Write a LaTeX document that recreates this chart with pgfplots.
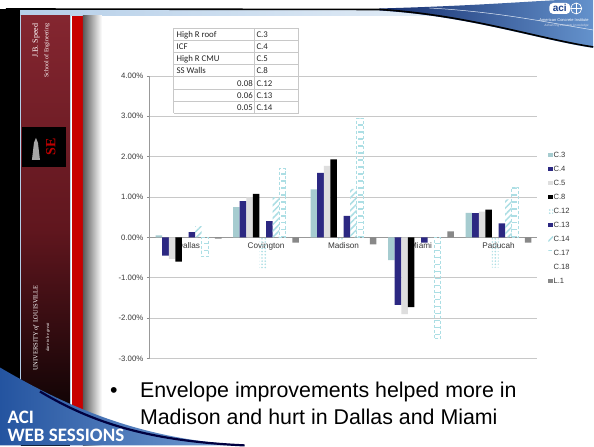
\documentclass[border=0pt]{standalone}
\usepackage{pgfplots}
\pgfplotsset{compat=1.18}
\usepackage{pgfplotstable}
\usepackage{fontspec}
\setmainfont{Liberation Sans}
\newfontfamily\calibri{Carlito}
\newfontfamily\serifface{Liberation Serif}
\usetikzlibrary{patterns,patterns.meta}

\definecolor{barteal}{RGB}{166,204,208}
\definecolor{barnavy}{RGB}{44,40,130}
\definecolor{barsilver}{RGB}{222,222,222}
\definecolor{barcyan}{RGB}{172,222,228}
\definecolor{bargray}{RGB}{136,136,136}
\definecolor{gridgray}{RGB}{200,200,200}
\definecolor{labelgray}{RGB}{55,55,55}
\definecolor{maroontop}{RGB}{132,38,48}
\definecolor{maroonmid}{RGB}{96,22,30}
\definecolor{stripe}{RGB}{200,0,0}
\definecolor{paleblue}{RGB}{180,206,232}
\definecolor{acidark}{RGB}{22,46,110}
\definecolor{acilight}{RGB}{100,146,204}
\definecolor{aciblue}{RGB}{28,66,140}
\definecolor{swooshdark}{RGB}{36,84,160}
\definecolor{swooshlight}{RGB}{120,160,212}

% Relative change per city and envelope measure (percent)
\pgfplotstableread{
x    C3     C4     C5     C8     C12    C13    C14    C17    C18   L1
0    0.05  -0.45  -0.53  -0.60   0.00   0.13   0.28  -0.48   0    -0.03
1    0.75   0.90   0.99   1.08  -0.78   0.40   1.00   1.70   0    -0.13
2    1.19   1.60   1.77   1.93  -0.10   0.53   1.20   2.95   0    -0.17
3   -0.56  -1.67  -1.90  -1.73   0.00  -0.13   0.00  -2.50   0     0.15
4    0.61   0.60   0.64   0.69  -0.75   0.35   0.94   1.24   0    -0.13
}\savings

\pgfplotsset{
  sq/.style={legend image code/.code={\draw[##1,draw=none] (0pt,-2.4pt) rectangle (4.8pt,2.4pt);}},
}
\tikzset{
  citylabel/.style={anchor=north, inner sep=0pt, yshift=-4.5pt, font=\fontsize{8.2}{9}\selectfont, text=labelgray},
}

\begin{document}
\begin{tikzpicture}

% ---------- slide background ----------
\begin{scope}[x=1pt,y=-1pt,shift={(0pt,446pt)}]
  \fill[white] (0,0) rectangle (594,446);
  % top rule and pale bar
  \shade[left color=paleblue, right color=paleblue!40] (8,10) rectangle (430,16);
  \shade[left color=acidark, right color=acilight] (380,8.5) .. controls (470,6) and (520,2) .. (560,0) -- (594,0) -- (594,48)
     .. controls (540,40) and (470,16) .. (380,10.5) -- cycle;
  \draw[black, line width=1.6] (6,9) -- (380,9.5) .. controls (470,15) and (540,39) .. (594,47);
  \draw[white!80!acilight, line width=0.5] (430,8) .. controls (500,12) and (545,22) .. (594,30);
  % left banner
  \fill[black] (0,9) rectangle (20,446);
  \shade[top color=maroontop, bottom color=maroonmid] (21,16) rectangle (70,230);
  \shade[top color=maroonmid, bottom color=black] (21,230) rectangle (70,446);
  \draw[paleblue, line width=0.7] (20.5,16) -- (20.5,446) (70.6,16) -- (70.6,446);
  \fill[stripe] (72.5,16) rectangle (83,446);
  \shade[left color=black!65, right color=white] (83,16) rectangle (102,446);
  % school name and emblem
  \node[rotate=90, anchor=east, text=white, font=\serifface\fontsize{8}{9}\selectfont] at (36,20) {J.B. Speed};
  \node[rotate=90, anchor=east, text=white, font=\serifface\fontsize{6}{7}\selectfont] at (47,20) {School of Engineering};
  \fill[black] (22,127) rectangle (66,167);
  \fill[black!35] (32,160) -- (34,143) -- (36,138) -- (38,143) -- (40,160) -- cycle;
  \node[text=red!75!black, font=\serifface\bfseries\fontsize{14}{14}\selectfont, rotate=90] at (51,147) {SE};
  \node[rotate=90, anchor=west, text=white, font=\serifface\fontsize{6.5}{7}\selectfont] at (36,375) {UNIVERSITY \emph{of} LOUISVILLE};
  \node[rotate=90, anchor=west, text=white, font=\serifface\itshape\fontsize{4.5}{5}\selectfont] at (48,356) {dare to be great};
  % institute mark
  \fill[white, rounded corners=4] (550,3) rectangle (571,14);
  \node[text=aciblue, font=\bfseries\fontsize{10}{10}\selectfont] at (560.5,8) {aci};
  \draw[white, line width=0.7] (577,8.5) circle (5.5);
  \draw[white, line width=0.4] (571.5,8.5) -- (582.5,8.5) (577,3) -- (577,14);
  \node[text=white, font=\fontsize{4}{4}\selectfont, anchor=east] at (593,20) {American Concrete Institute};
  \node[text=white!80!aciblue, font=\itshape\fontsize{3.2}{3}\selectfont, anchor=east] at (593,25.5) {Advancing concrete knowledge};
  % lower left swoosh
  \shade[left color=swooshdark, right color=swooshlight] (0,368) .. controls (80,415) and (150,440) .. (245,446) -- (0,446) -- cycle;
  \draw[black!75!blue, line width=2.2] (40,392) .. controls (100,428) and (160,442) .. (245,446);
  \node[anchor=base west, text=white, font=\calibri\bfseries\fontsize{19}{19}\selectfont] at (4,424) {ACI};
  \node[anchor=base west, text=white, font=\calibri\bfseries\fontsize{19}{19}\selectfont] at (4,442) {WEB SESSIONS};
\end{scope}

% ---------- chart ----------
\begin{axis}[
  at={(150pt,87pt)}, anchor=south west,
  scale only axis, width=388pt, height=283pt,
  xmin=-0.5, xmax=4.5, ymin=-3, ymax=4,
  ybar=0pt, bar width=6.6pt,
  axis x line=middle, axis y line=left,
  axis line style={-, draw=black!40, line width=0.6pt},
  xtick=\empty,
  ytick={-3,-2,...,4},
  ytick style={draw=black!45, line width=0.6pt},
  ytick align=outside, major tick length=3pt,
  y tick label style={font=\fontsize{7.8}{9}\selectfont, text=labelgray},
  /pgf/number format/assume math mode=true,
  yticklabel={\pgfmathprintnumber[fixed,fixed zerofill,precision=2]{\tick}\%},
  ymajorgrids, grid style={gridgray, line width=0.7pt},
  legend style={at={(1.028,0.732)}, anchor=north west, draw=none, fill=none,
    font=\fontsize{7.6}{8}\selectfont, text=labelgray,
    cells={anchor=west}, row sep=7.5pt, inner sep=0pt,
    nodes={inner sep=0.5pt, text height=5.5pt, text depth=0pt}},
]
% city names sit on the zero line, underneath the bars
\node[citylabel] at (axis cs:0,0) {Dallas};
\node[citylabel] at (axis cs:1,0) {Covington};
\node[citylabel] at (axis cs:2,0) {Madison};
\node[citylabel] at (axis cs:3,0) {Miami};
\node[citylabel] at (axis cs:4,0) {Paducah};

\addplot[fill=barteal, draw=none, sq] table[x=x,y=C3]{\savings};
\addplot[fill=barnavy, draw=none, sq] table[x=x,y=C4]{\savings};
\addplot[fill=barsilver, draw=none, sq] table[x=x,y=C5]{\savings};
\addplot[fill=black, draw=none, sq] table[x=x,y=C8]{\savings};
\addplot[draw=none, pattern={Dots[distance=3.2pt, radius=0.9pt]}, pattern color=barcyan, sq] table[x=x,y=C12]{\savings};
\addplot[fill=barnavy, draw=none, sq] table[x=x,y=C13]{\savings};
\addplot[draw=none, pattern={Lines[angle=45, distance=4.5pt, line width=1.5pt]}, pattern color=barcyan, sq] table[x=x,y=C14]{\savings};
\addplot[draw=barcyan, densely dashed, line width=0.8pt, pattern={Lines[angle=0, distance=7pt, line width=1.4pt]}, pattern color=barcyan, sq] table[x=x,y=C17]{\savings};
\addplot[draw=none, fill=none, legend image code/.code={\path (0pt,-2.4pt) rectangle (4.8pt,2.4pt);}] table[x=x,y=C18]{\savings};
\addplot[fill=bargray, draw=none, sq] table[x=x,y=L1]{\savings};
\legend{C.3,C.4,C.5,C.8,C.12,C.13,C.14,C.17,C.18,L.1}
\end{axis}

% ---------- key table and bullet text ----------
\begin{scope}[x=1pt,y=-1pt,shift={(0pt,446pt)}]
  \fill[white] (174,28.3) rectangle (299,113.3);
  \foreach \i in {0,...,7} {
    \draw[gridgray, line width=0.6] (174,28.3+12.14*\i) -- (299,28.3+12.14*\i);
  }
  \draw[gridgray, line width=0.6] (174,28.3) -- (174,113.3) (255,28.3) -- (255,113.3) (299,28.3) -- (299,113.3);
  \foreach \lab/\code [count=\i from 0] in {High R roof/C.3, ICF/C.4, High R CMU/C.5, SS Walls/C.8} {
    \node[anchor=base west, inner sep=0, font=\calibri\fontsize{8.8}{9}\selectfont, text=black!85] at (176.7,37.6+12.14*\i) {\lab};
    \node[anchor=base west, inner sep=0, font=\calibri\fontsize{8.8}{9}\selectfont, text=black!85] at (256.7,37.6+12.14*\i) {\code};
  }
  \foreach \val/\code [count=\i from 4] in {0.08/C.12, 0.06/C.13, 0.05/C.14} {
    \node[anchor=base east, inner sep=0, font=\calibri\fontsize{8.8}{9}\selectfont, text=black!85] at (253.3,37.6+12.14*\i) {\val};
    \node[anchor=base west, inner sep=0, font=\calibri\fontsize{8.8}{9}\selectfont, text=black!85] at (256.7,37.6+12.14*\i) {\code};
  }
  \node[anchor=base west, inner sep=0, font=\fontsize{21.4}{24}\selectfont] at (110,398.3) {\textbullet};
  \node[anchor=base west, inner sep=0, font=\fontsize{21.4}{24}\selectfont] at (140,398.3) {Envelope improvements helped more in};
  \node[anchor=base west, inner sep=0, font=\fontsize{21.4}{24}\selectfont] at (140,425) {Madison and hurt in Dallas and Miami};
\end{scope}
\end{tikzpicture}
\end{document}
